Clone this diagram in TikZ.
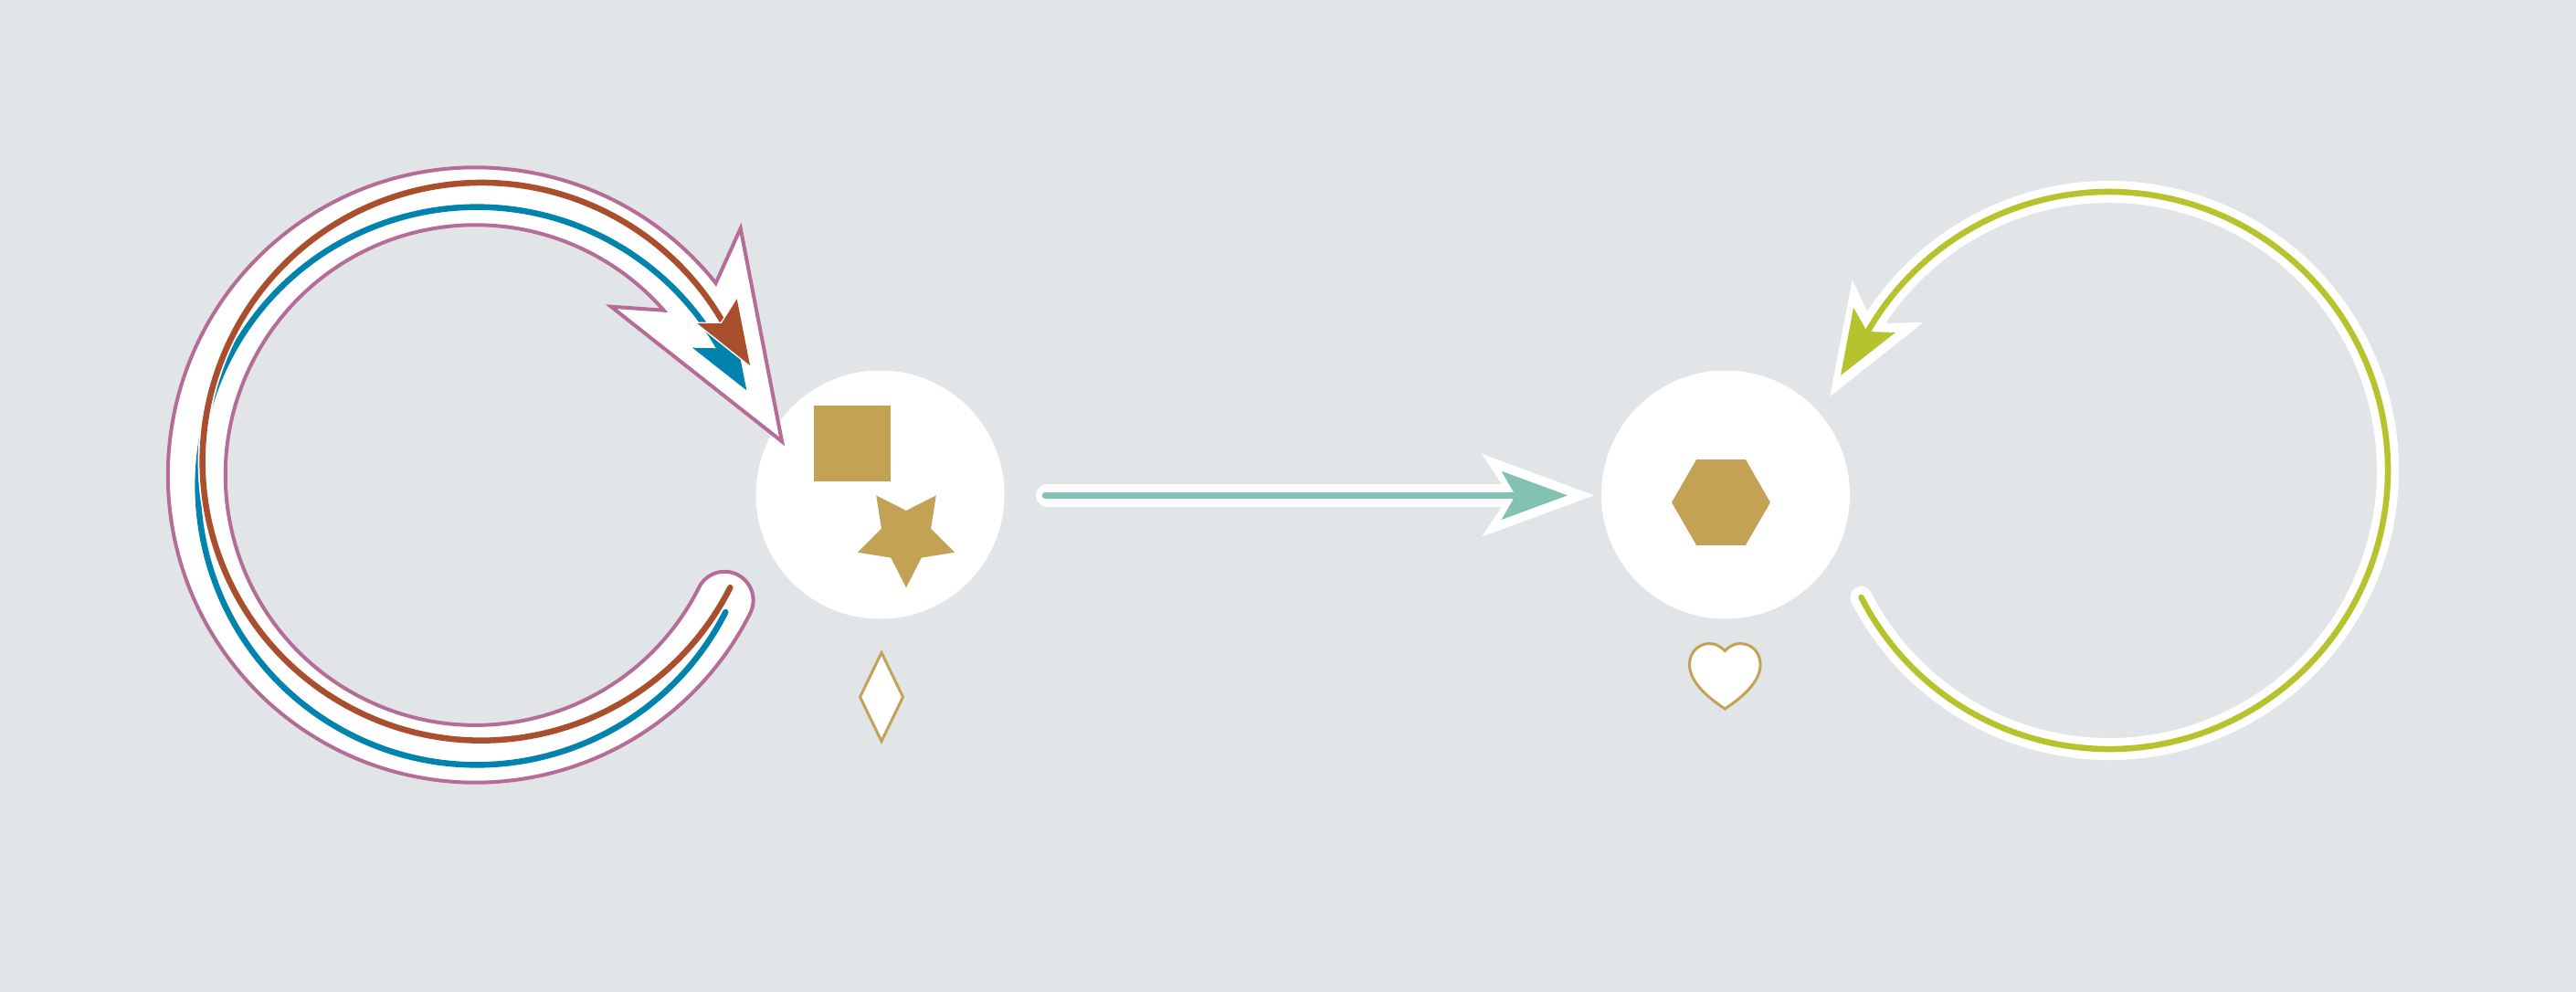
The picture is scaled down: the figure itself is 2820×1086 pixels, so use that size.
\documentclass[tikz,border=0pt]{standalone}
\usetikzlibrary{shapes.geometric}
\definecolor{bgGrey}{HTML}{E1E5E8}
\definecolor{tanShape}{HTML}{C3A256}
\definecolor{pinkLine}{HTML}{B56C98}
\definecolor{brownLine}{HTML}{A94F2D}
\definecolor{blueLine}{HTML}{0084AD}
\definecolor{tealLine}{HTML}{83C2B3}
\definecolor{limeLine}{HTML}{B6C32D}
\tikzset{
 hub/.style={circle,fill=white,inner sep=0pt,outer sep=0pt,minimum size=272pt},
 solid shape/.style={fill=tanShape,inner sep=0pt,outer sep=0pt},
 hollow shape/.style={draw=tanShape,fill=white,line width=3pt},
 halo/.style={white,line width=24pt,line cap=round},
 thread/.style={line width=6.5pt,line cap=round}
}
\begin{document}
\begin{tikzpicture}[x=1pt,y=-1pt,line join=miter]
 \fill[bgGrey] (0,0) rectangle (2820,1086);
 \useasboundingbox (0,0) rectangle (2820,1086);
 % hubs and the shapes on them
 \node[hub] (hubLeft) at (963.5,541.5) {};
 \node[hub] (hubRight) at (1889,541.5) {};
 \node[solid shape,rectangle,minimum size=83.4pt] (square) at (933,485.7) {};
 \node[solid shape,star,star points=5,star point ratio=1.96,shape border rotate=180,minimum size=111.6pt] (pentagram) at (992,587.5) {};
 \node[solid shape,regular polygon,regular polygon sides=6,minimum size=108pt] (hexagon) at (1884,550) {};
 \node[hollow shape,diamond,inner sep=0pt,outer sep=0pt,minimum width=47pt,minimum height=97pt] (gem) at (965,763) {};
 \draw[hollow shape] (1888.3,712.5)
  .. controls (1884,708) and (1878,704.5) .. (1871.7,704.5)
  .. controls (1859,704.5) and (1849.5,714.5) .. (1849.5,727.3)
  .. controls (1849.5,748) and (1872,765) .. (1888.3,776)
  .. controls (1904.6,765) and (1927.1,748) .. (1927.1,727.3)
  .. controls (1927.1,714.5) and (1917.6,704.5) .. (1904.9,704.5)
  .. controls (1898.6,704.5) and (1892.6,708) .. (1888.3,712.5) -- cycle;
 % straight arrow
 \coordinate (tailLong) at (1146.5,542.3);
 \coordinate (neckLong) at (1650,542.3);
 \coordinate (tailThin) at (1144,542.3);
 \coordinate (endThin) at (1660,542.3);
 \draw[white,line width=25pt,line cap=round] (tailLong)--(neckLong);
 \fill[white] (1622,496.7)--(1745,542.3)--(1622,587.7)--(1644,555)--(1644,530)--cycle;
 \draw[tealLine,line width=6.5pt,line cap=round] (tailThin)--(endThin);
 \fill[tealLine] (1643.6,515.7)--(1716,542.3)--(1643.6,569)--(1659,542.3)--cycle;
 % big outlined spiral
 \filldraw[fill=white,draw=pinkLine,line width=4pt]
  ({520.5+336.7*cos(-38.6)},{520+336.7*sin(-38.6)})
  arc[start angle=-38.6,end angle=-333.3,radius=336.7]
  arc[start angle=26.7,end angle=-153.3,radius=31.4]
  arc[start angle=-333.3,end angle=-41.2,radius=273.8]
  --(669,335.7)--(856,483.3)--(810.7,250)--cycle;
 % blue thread
 \draw[blueLine,thread] ({522+305.3*cos(26.9)},{532+305.3*sin(26.9)})
  arc[start angle=26.9,end angle=330.1,radius=305.3];
 \fill[blueLine] (803,354.6)--(817.3,427.3)--(758,380.7)--(784,381.3)--cycle;
 % brown thread over a white edge
 \draw[white,line width=10pt] ({527+305.3*cos(26.85)},{505.3+305.3*sin(26.85)})
  arc[start angle=26.85,end angle=330,radius=305.3];
 \draw[brownLine,thread] ({527+305.3*cos(26.85)},{505.3+305.3*sin(26.85)})
  arc[start angle=26.85,end angle=330,radius=305.3];
 \filldraw[fill=brownLine,draw=white,line width=3pt,line join=round] (806.7,327.3)--(821,400)--(763.3,354)--(790,354)--cycle;
 \fill[brownLine] (806.7,327.3)--(821,400)--(763.3,354)--(790,354)--cycle;
 % right loop
 \draw[halo] ({2309+305*cos(152.9)},{515+305*sin(152.9)})
  arc[start angle=152.9,end angle=-150.2,radius=305];
 \fill[white] (2027.7,306)--(2003.3,434)--(2105.7,352.7)--(2066.7,354)--(2045,343.3)--cycle;
 \draw[limeLine,thread] ({2309+305*cos(152.9)},{515+305*sin(152.9)})
  arc[start angle=152.9,end angle=-150.2,radius=305];
 \fill[limeLine] (2029,336.7)--(2015,411)--(2075,364)--(2044,363)--cycle;
\end{tikzpicture}
\end{document}
